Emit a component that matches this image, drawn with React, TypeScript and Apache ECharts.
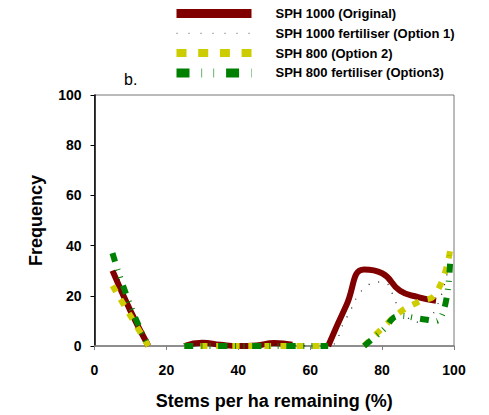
import React, { useEffect, useRef } from "react";
import * as echarts from "echarts";

// Stems per ha remaining (%) – sample positions along the x axis
const stems = [5, 10, 15, 20, 25, 30, 35, 40, 45, 50, 55, 60, 65, 70, 75, 80, 85, 90, 95, 99];

// Frequency per scenario (null = no value, line is broken)
const sph1000Original = [30, 14, 0, null, 0, 1.3, 0.5, 0, 0.2, 1.2, 0.5, null, 0, 16, 30.5, 29, 22, 19.5, 18, null];
const sph1000Fertiliser = [34, 15, 0, null, 0, 0.5, 0.3, 0, 0.2, 0.5, 0.3, 0, 0, 11, 23, 25.5, 15, 9.5, 15, 37];
const sph800 = [24, 12, 0, null, 0, 0, 0, 0, 0, 0, 0, 0, 0, null, 0, 7, 13.5, 17.5, 21, 39];
const sph800Fertiliser = [37, 16, 0, null, 0, 0, 0, 0, 0, 0, 0, 0, 0, null, 0, 6, 12, 11, 10, 36];

const seriesNames = [
  "SPH 1000 (Original)",
  "SPH 1000 fertiliser (Option 1)",
  "SPH 800 (Option 2)",
  "SPH 800 fertiliser (Option3)",
];

const yTicks = [0, 20, 40, 60, 80, 100];
const xTicks = [0, 20, 40, 60, 80, 100];

const FONT = "'Liberation Sans', Arial, sans-serif";

const toPairs = (ys: (number | null)[]) =>
  stems.map((x, i) => [x, ys[i] === null ? "-" : ys[i]]);

export default function App() {
  const ref = useRef<HTMLDivElement>(null);

  useEffect(() => {
    if (!ref.current) return;
    const chart = echarts.init(ref.current, undefined, { renderer: "svg" });

    const colors = ["#800000", "#222222", "#CCCC00", "#008000"];
    const lineStyles = [
      { color: colors[0], width: 6, type: "solid" as any, cap: "butt" },
      { color: colors[1], width: 1.3, type: [1, 9] as any, cap: "butt" },
      { color: colors[2], width: 6, type: [7, 9] as any, cap: "butt" },
      { color: colors[3], width: 6, type: [9, 8, 1, 7, 1, 8] as any, cap: "butt" },
    ];
    const legendLineStyles = [
      { color: colors[0], width: 9, type: "solid" as any },
      { color: "#555555", width: 1, type: [1, 11] as any },
      { color: colors[2], width: 8, type: [10, 11.7] as any },
      { color: colors[3], width: 9, type: [13, 12, 0.6, 11.4, 0.6, 12] as any },
    ];
    const datasets = [sph1000Original, sph1000Fertiliser, sph800, sph800Fertiliser];

    chart.setOption({
      animation: false,
      backgroundColor: "#ffffff",
      color: colors,
      textStyle: { fontFamily: FONT },
      grid: {
        left: 94.5,
        right: 35,
        top: 95,
        bottom: 68,
        show: true,
        borderColor: "#777777",
        borderWidth: 1,
      },
      legend: {
        orient: "vertical",
        left: 172,
        top: 7,
        padding: 0,
        itemWidth: 75,
        itemHeight: 14,
        itemGap: 6.8,
        selectedMode: false,
        itemStyle: { color: "transparent", borderWidth: 0, opacity: 0 },
        textStyle: {
          fontFamily: FONT,
          fontSize: 13,
          fontWeight: "bold",
          color: "#000",
          padding: [0, 0, 0, 19],
        },
        data: seriesNames.map((name, i) => ({
          name,
          lineStyle: legendLineStyles[i],
          itemStyle: { color: "transparent", borderWidth: 0, opacity: 0 },
        })),
      },
      graphic: [
        {
          type: "text",
          left: 124,
          top: 71,
          style: { text: "b.", font: `16px ${FONT}`, fill: "#000" },
        },
      ],
      xAxis: {
        type: "value",
        min: 0,
        max: 100,
        interval: 20,
        name: "Stems per ha remaining (%)",
        nameLocation: "middle",
        nameGap: 46,
        nameTextStyle: { fontFamily: FONT, fontSize: 18, fontWeight: "bold", color: "#000" },
        axisLine: { show: true, lineStyle: { color: "#808080", width: 1.5 } },
        axisTick: { show: true, inside: false, length: 4, lineStyle: { color: "#808080" } },
        axisLabel: {
          margin: 17,
          fontFamily: FONT,
          fontSize: 14,
          fontWeight: "bold",
          color: "#000",
          customValues: xTicks,
        },
        splitLine: { show: false },
      },
      yAxis: {
        type: "value",
        min: 0,
        max: 100,
        interval: 20,
        name: "Frequency",
        nameLocation: "middle",
        nameRotate: 90,
        nameGap: 50,
        nameTextStyle: { fontFamily: FONT, fontSize: 18, fontWeight: "bold", color: "#000" },
        axisLine: { show: true, lineStyle: { color: "#000000", width: 1.5 } },
        axisTick: { show: true, inside: false, length: 4, lineStyle: { color: "#000" } },
        axisLabel: {
          margin: 13,
          fontFamily: FONT,
          fontSize: 14,
          fontWeight: "bold",
          color: "#000",
          customValues: yTicks,
        },
        splitLine: { show: false },
      },
      series: datasets.map((ys, i) => ({
        name: seriesNames[i],
        type: "line",
        data: toPairs(ys),
        smooth: 0.5,
        symbol: "none",
        connectNulls: false,
        itemStyle: { color: colors[i] },
        lineStyle: lineStyles[i],
        z: 2 + i,
      })),
    });

    return () => chart.dispose();
  }, []);

  return (
    <div
      ref={ref}
      style={{ position: "absolute", left: 0, top: 0, width: 489, height: 415 }}
    />
  );
}
